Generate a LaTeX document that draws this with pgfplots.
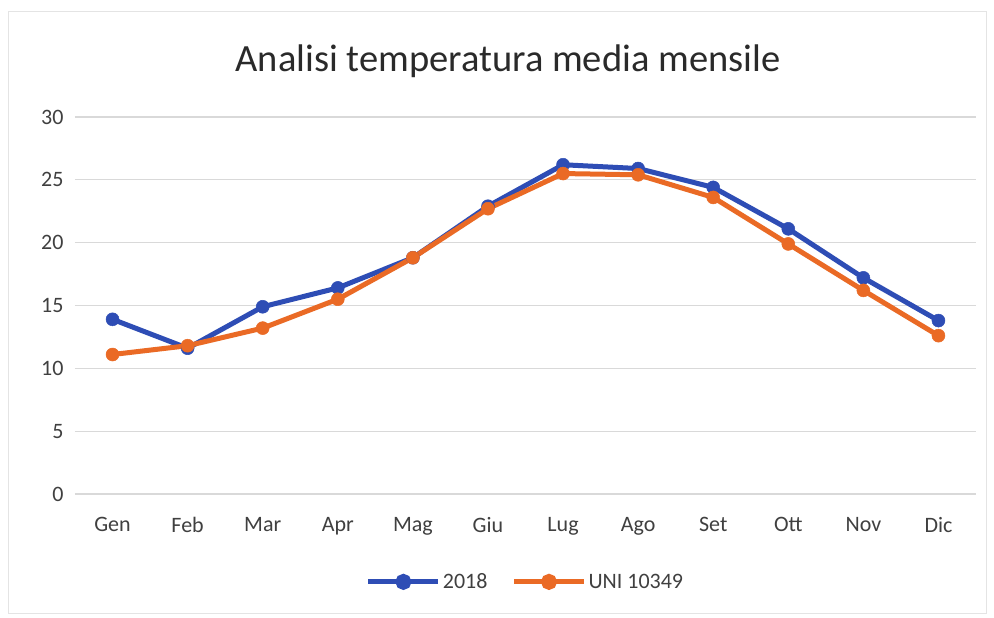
\documentclass[border=0pt]{standalone}
\usepackage{pgfplots}
\pgfplotsset{compat=1.18}
\usepackage{fontspec}
\setmainfont{Carlito}
\definecolor{cblue}{HTML}{2E4DB5}
\definecolor{corange}{HTML}{EA6A25}
\definecolor{ctext}{HTML}{404040}
\definecolor{ctitle}{HTML}{2A2A2A}
\definecolor{cgrid}{HTML}{D9D9D9}
\begin{document}
\begin{tikzpicture}[x=1pt,y=1pt]
\path[fill=white] (0,0) rectangle (994,618);
\draw[cgrid!70, line width=1pt] (8,4) rectangle (986,606);
\node[text=ctitle, font=\fontsize{38.5}{44}\selectfont] at (508,557) {Analisi temperatura media mensile};
\begin{axis}[
  at={(75pt,124pt)}, anchor=south west,
  scale only axis, width=901pt, height=377pt,
  xmin=-0.5, xmax=11.5, ymin=0, ymax=30,
  xtick={0,...,11},
  xticklabels={Gen,Feb,Mar,Apr,Mag,Giu,Lug,Ago,Set,Ott,Nov,Dic},
  ytick={0,5,...,30},
  ymajorgrids, grid style={cgrid, line width=1.2pt},
  axis line style={draw=none},
  major tick length=0pt,
  tick label style={text=ctext, font=\fontsize{22}{25}\selectfont},
  /pgf/number format/assume math mode=true,
  xticklabel style={yshift=-20pt},
  yticklabel style={xshift=-8pt},
  legend style={at={(0.5,-0.20)}, anchor=north, draw=none, fill=none,
    legend columns=2, font=\fontsize{22}{25}\selectfont, text=ctext,
    /tikz/every even column/.append style={column sep=22pt}},
  legend image code/.code={
    \draw[#1, mark=none] (0pt,0pt) -- (70pt,0pt);
    \fill[#1] (35pt,0pt) circle (5.5pt);
  },
  clip=false,
]
\addplot[cblue, line width=5pt, mark=*, mark size=6.5pt, mark options={solid, fill=cblue, line width=0.5pt}]
coordinates {(0,13.9) (1,11.6) (2,14.9) (3,16.4) (4,18.8) (5,22.9) (6,26.2) (7,25.9) (8,24.4) (9,21.1) (10,17.2) (11,13.8)};
\addlegendentry{2018}
\addplot[corange, line width=5pt, mark=*, mark size=6.5pt, mark options={solid, fill=corange, line width=0.5pt}]
coordinates {(0,11.1) (1,11.8) (2,13.2) (3,15.5) (4,18.8) (5,22.7) (6,25.5) (7,25.4) (8,23.6) (9,19.9) (10,16.2) (11,12.6)};
\addlegendentry{UNI 10349}
\end{axis}
\end{tikzpicture}
\end{document}
